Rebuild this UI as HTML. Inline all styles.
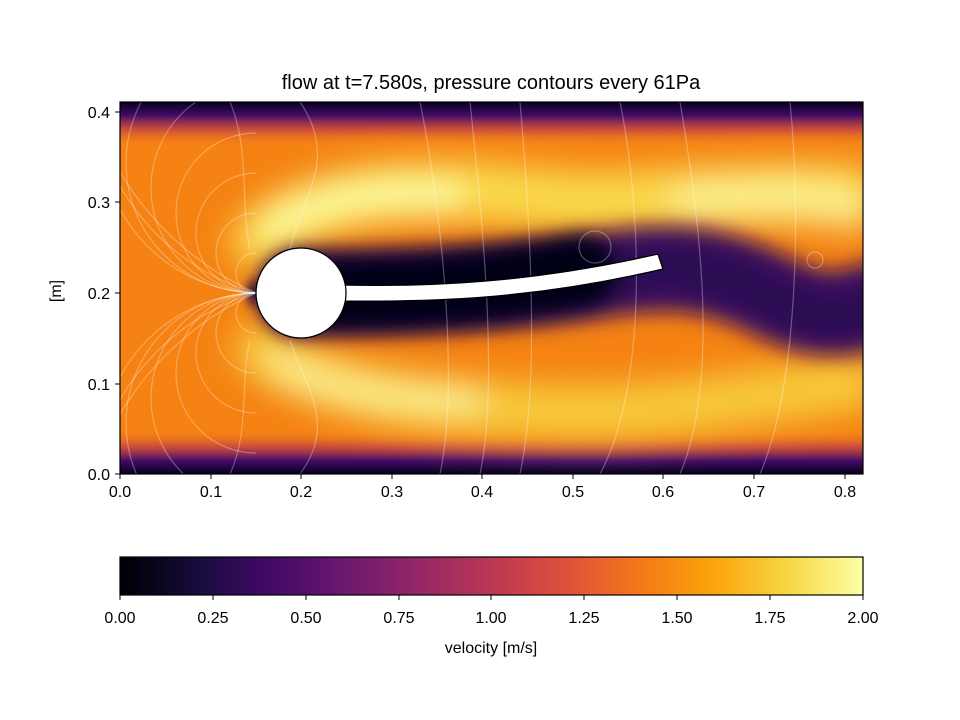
<!DOCTYPE html>
<html><head><style>
html,body{margin:0;padding:0;background:#fff;width:960px;height:720px;overflow:hidden;}
svg{display:block;font-family:"Liberation Sans","DejaVu Sans",sans-serif;}
</style></head><body>
<svg width="960" height="720" viewBox="0 0 960 720" xmlns="http://www.w3.org/2000/svg">
<defs>
<linearGradient id="inferno" x1="0" x2="1" y1="0" y2="0">
<stop offset="0" stop-color="#000004"/><stop offset="0.1" stop-color="#160b39"/>
<stop offset="0.2" stop-color="#420a68"/><stop offset="0.3" stop-color="#6a176e"/>
<stop offset="0.4" stop-color="#932667"/><stop offset="0.5" stop-color="#bc3754"/>
<stop offset="0.6" stop-color="#dd513a"/><stop offset="0.7" stop-color="#f37819"/>
<stop offset="0.8" stop-color="#fca50a"/><stop offset="0.9" stop-color="#f6d746"/>
<stop offset="1" stop-color="#fcffa4"/></linearGradient>
<linearGradient id="top" x1="0" x2="0" y1="0" y2="1">
<stop offset="0" stop-color="#05021a"/><stop offset="0.3" stop-color="#420a68"/>
<stop offset="0.65" stop-color="#b8324f" stop-opacity="0.6"/><stop offset="1" stop-color="#f37819" stop-opacity="0"/></linearGradient>
<linearGradient id="bot" x1="0" x2="0" y1="1" y2="0">
<stop offset="0" stop-color="#05021a"/><stop offset="0.3" stop-color="#420a68"/>
<stop offset="0.65" stop-color="#b8324f" stop-opacity="0.6"/><stop offset="1" stop-color="#f37819" stop-opacity="0"/></linearGradient>
<filter id="b1" filterUnits="userSpaceOnUse" x="0" y="0" width="960" height="720"><feGaussianBlur stdDeviation="16"/></filter>
<filter id="b2" filterUnits="userSpaceOnUse" x="0" y="0" width="960" height="720"><feGaussianBlur stdDeviation="10"/></filter>
<filter id="b3" filterUnits="userSpaceOnUse" x="0" y="0" width="960" height="720"><feGaussianBlur stdDeviation="5"/></filter>
<clipPath id="ax"><rect x="120" y="102" width="743" height="372"/></clipPath>
<clipPath id="left"><rect x="120" y="102" width="136" height="372"/></clipPath>
</defs>
<text x="491" y="89" font-size="20" text-anchor="middle">flow at t=7.580s, pressure contours every 61Pa</text>
<g clip-path="url(#ax)">
<rect x="120" y="102" width="743" height="372" fill="#f58212"/>
<rect x="120" y="102" width="743" height="44" fill="url(#top)"/>
<rect x="120" y="430" width="743" height="44" fill="url(#bot)"/>
<g filter="url(#b1)" fill="none" stroke-linecap="round">
<path d="M262 240 C320 190 420 185 520 195 C620 210 700 190 850 195" stroke="#f9d848" stroke-width="60"/>
<path d="M262 350 C330 395 420 405 520 410 C620 418 700 405 850 385" stroke="#f7c93a" stroke-width="55"/>
<path d="M272 225 C320 195 380 190 450 195" stroke="#fcffa4" stroke-width="28"/>
<path d="M280 365 C330 392 390 398 470 400" stroke="#fbf394" stroke-width="26"/>
<path d="M690 200 C760 195 820 195 850 210" stroke="#fbef8c" stroke-width="40"/>
</g>
<g filter="url(#b2)" fill="none" stroke-linecap="round">
<path d="M300 293 C400 292 500 290 600 275 C680 262 720 270 780 300 C820 318 850 315 870 305" stroke="#3a0a5e" stroke-width="85"/>
<path d="M600 278 C680 260 720 270 780 302 C820 320 850 318 870 308" stroke="#2a0a52" stroke-width="40"/>
</g>
<path d="M300 293 C400 295 480 290 580 272" filter="url(#b2)" fill="none" stroke="#050215" stroke-width="72" stroke-linecap="round"/>
<ellipse cx="254" cy="293" rx="6" ry="12" fill="#1a0b40" filter="url(#b3)"/>
<g fill="none" stroke="#fff" stroke-opacity="0.3" stroke-width="1.2">
<g clip-path="url(#left)">
<circle cx="256" cy="253" r="40"/><circle cx="256" cy="333" r="40"/>
<circle cx="256" cy="213" r="80"/><circle cx="256" cy="373" r="80"/>
<circle cx="256" cy="163" r="130"/><circle cx="256" cy="423" r="130"/>
<circle cx="256" cy="273" r="20"/><circle cx="256" cy="313" r="20"/>
<circle cx="256" cy="233" r="60"/><circle cx="256" cy="353" r="60"/>
<circle cx="256" cy="188" r="105"/><circle cx="256" cy="398" r="105"/>
<path d="M256 293 A160 160 0 0 1 120 209 M256 293 A160 160 0 0 0 120 377"/>
<path d="M256 293 A230 230 0 0 1 120 186 M256 293 A230 230 0 0 0 120 400"/>
<path d="M256 293 A300 300 0 0 1 120 172 M256 293 A300 300 0 0 0 120 414"/>
</g>
<path d="M300 102 C340 160 300 200 290 250"/><path d="M230 102 C250 150 240 200 250 250"/>
<path d="M300 474 C340 420 300 380 290 340"/><path d="M230 474 C250 430 240 380 250 340"/>
<path d="M470 102 C480 200 500 380 480 474"/><path d="M520 102 C530 220 540 380 520 474"/>
<path d="M620 102 C640 200 650 380 600 474"/><path d="M680 102 C700 220 720 380 680 474"/>
<path d="M790 102 C800 200 800 380 760 474"/><circle cx="595" cy="247" r="16"/>
<path d="M420 102 C440 200 460 380 440 474"/><circle cx="815" cy="260" r="8"/>
</g>
</g>
<path d="M340 285 C430 287 530 283 658 254 L663 269 C530 300 430 302 340 301 Z" fill="#fff" stroke="#000" stroke-width="1.3"/>
<circle cx="301" cy="293" r="45" fill="#fff" stroke="#000" stroke-width="1.3"/>
<rect x="337" y="286" width="8" height="14" fill="#fff"/>
<rect x="120" y="102" width="743" height="372" fill="none" stroke="#000" stroke-width="1.2"/>
<g font-size="16" fill="#000">
<g stroke="#000">
<line x1="120" y1="474" x2="120" y2="479"/><line x1="211" y1="474" x2="211" y2="479"/><line x1="301" y1="474" x2="301" y2="479"/><line x1="392" y1="474" x2="392" y2="479"/><line x1="482" y1="474" x2="482" y2="479"/><line x1="573" y1="474" x2="573" y2="479"/><line x1="663" y1="474" x2="663" y2="479"/><line x1="754" y1="474" x2="754" y2="479"/><line x1="845" y1="474" x2="845" y2="479"/>
<line x1="115" y1="474" x2="120" y2="474"/><line x1="115" y1="384" x2="120" y2="384"/><line x1="115" y1="293" x2="120" y2="293"/><line x1="115" y1="202" x2="120" y2="202"/><line x1="115" y1="112" x2="120" y2="112"/>
</g>
<g text-anchor="middle">
<text x="120" y="497">0.0</text><text x="211" y="497">0.1</text><text x="301" y="497">0.2</text><text x="392" y="497">0.3</text><text x="482" y="497">0.4</text><text x="573" y="497">0.5</text><text x="663" y="497">0.6</text><text x="754" y="497">0.7</text><text x="845" y="497">0.8</text>
</g>
<g text-anchor="end">
<text x="110" y="480">0.0</text><text x="110" y="390">0.1</text><text x="110" y="299">0.2</text><text x="110" y="208">0.3</text><text x="110" y="118">0.4</text>
</g>
<text transform="translate(61,291) rotate(-90)" text-anchor="middle">[m]</text>
</g>
<rect x="120" y="557" width="743" height="38" fill="url(#inferno)" stroke="#000" stroke-width="1.2"/>
<g font-size="16" text-anchor="middle">
<g stroke="#000">
<line x1="120" y1="595" x2="120" y2="600"/><line x1="213" y1="595" x2="213" y2="600"/><line x1="306" y1="595" x2="306" y2="600"/><line x1="399" y1="595" x2="399" y2="600"/><line x1="491" y1="595" x2="491" y2="600"/><line x1="584" y1="595" x2="584" y2="600"/><line x1="677" y1="595" x2="677" y2="600"/><line x1="770" y1="595" x2="770" y2="600"/><line x1="863" y1="595" x2="863" y2="600"/>
</g>
<text x="120" y="623">0.00</text><text x="213" y="623">0.25</text><text x="306" y="623">0.50</text><text x="399" y="623">0.75</text><text x="491" y="623">1.00</text><text x="584" y="623">1.25</text><text x="677" y="623">1.50</text><text x="770" y="623">1.75</text><text x="863" y="623">2.00</text>
<text x="491" y="653">velocity [m/s]</text>
</g>
</svg>
</body></html>
